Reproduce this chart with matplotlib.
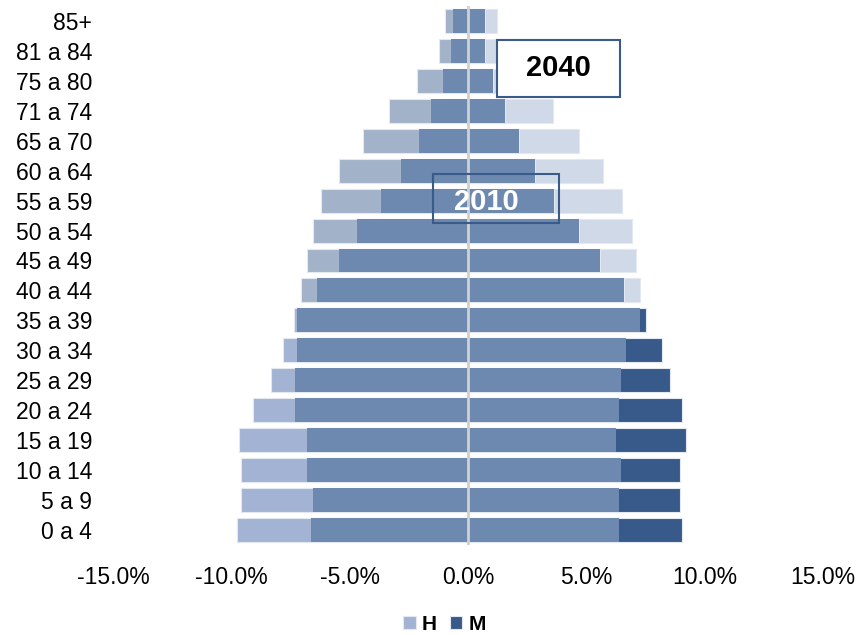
import matplotlib.pyplot as plt
from matplotlib.patches import Rectangle
import numpy as np

plt.rcParams['font.family'] = ['Liberation Sans', 'DejaVu Sans']

grupos = ['0 a 4', '5 a 9', '10 a 14', '15 a 19', '20 a 24', '25 a 29', '30 a 34',
          '35 a 39', '40 a 44', '45 a 49', '50 a 54', '55 a 59', '60 a 64',
          '65 a 70', '71 a 74', '75 a 80', '81 a 84', '85+']

# porcentajes (hombres a la izquierda, mujeres a la derecha)
h_2010 = [9.75, 9.58, 9.58, 9.66, 9.07, 8.31, 7.82, 7.37, 6.38, 5.45, 4.69, 3.68, 2.83, 2.07, 1.56, 1.06, 0.72, 0.63]
h_2040 = [6.63, 6.53, 6.79, 6.79, 7.30, 7.30, 7.22, 7.22, 7.04, 6.79, 6.53, 6.21, 5.45, 4.44, 3.34, 2.15, 1.22, 0.97]
m_2010 = [9.05, 8.97, 8.97, 9.22, 9.05, 8.55, 8.21, 7.53, 6.60, 5.59, 4.68, 3.65, 2.82, 2.14, 1.55, 1.04, 0.72, 0.72]
m_2040 = [6.37, 6.37, 6.45, 6.28, 6.37, 6.45, 6.69, 7.28, 7.28, 7.11, 6.94, 6.52, 5.69, 4.68, 3.58, 2.31, 1.38, 1.21]

y = np.arange(len(grupos))
h10, h40 = np.array(h_2010), np.array(h_2040)
m10, m40 = np.array(m_2010), np.array(m_2040)

fig = plt.figure(figsize=(8.58, 6.35), dpi=100)
ax = fig.add_axes([0.1317, 0.1417, 0.8273, 0.849])

alto = 0.8
borde = dict(edgecolor='#e3e8f1', linewidth=0.8)
# 2040 detras, 2010 encima, y la parte comun en el color intermedio
ax.barh(y, -h40, height=alto, color='#a2b2c8', **borde)
bh = ax.barh(y, -h10, height=alto, color='#a3b3d3', **borde)
ax.barh(y, -np.minimum(h10, h40), height=alto, color='#6d89b0', edgecolor='none')
ax.barh(y, m40, height=alto, color='#d0d9e8', **borde)
bm = ax.barh(y, m10, height=alto, color='#375a8a', **borde)
ax.barh(y, np.minimum(m10, m40), height=alto, color='#6d89b0', edgecolor='none')

ax.axvline(0, color='#d0d0d0', linewidth=2, zorder=5)

ax.set_xlim(-15, 15)
ax.set_ylim(-0.5, len(grupos) - 0.5)
ax.set_yticks(y)
ax.set_yticklabels(grupos, fontsize=16.5)
xt = [-15, -10, -5, 0, 5, 10, 15]
ax.set_xticks(xt)
ax.set_xticklabels(['%.1f%%' % v for v in xt], fontsize=16.5)
ax.tick_params(length=0)
ax.tick_params(axis='x', pad=15)
ax.tick_params(axis='y', pad=15)
for s in ax.spines.values():
    s.set_visible(False)

# recuadros de los años
ax.add_patch(Rectangle((1.225, 14.46), 5.2, 1.91, facecolor='white', edgecolor='#3a5a8a',
                       linewidth=1.5, zorder=6))
ax.text(3.82, 15.42, '2040', fontsize=21, fontweight='bold', color='black',
        ha='center', va='center', zorder=7)
ax.add_patch(Rectangle((-1.48, 10.25), 5.32, 1.64, facecolor='none', edgecolor='#3a5a8a',
                       linewidth=1.5, zorder=6))
ax.text(0.78, 10.95, '2010', fontsize=21, fontweight='bold', color='white',
        ha='center', va='center', zorder=7)

fig.legend([bh, bm], ['H', 'M'], loc='center', bbox_to_anchor=(0.518, 0.0173), ncol=2,
           frameon=False, prop={'size': 15, 'weight': 'bold'}, handlelength=0.6, handleheight=0.6,
           handletextpad=0.3, columnspacing=0.6)

plt.savefig('out.png')
